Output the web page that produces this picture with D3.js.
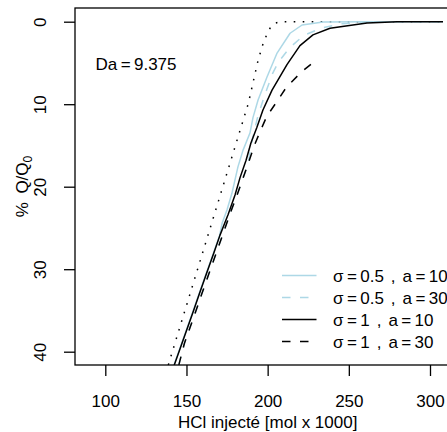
<!DOCTYPE html>
<html>
<head>
<meta charset="utf-8">
<script src="https://cdn.jsdelivr.net/npm/d3@7"></script>
<style>
  html, body { margin: 0; padding: 0; background: #fff; }
  svg { display: block; }
  text { font-family: "Liberation Sans", Arial, Helvetica, sans-serif; fill: #000; }
</style>
</head>
<body>
<svg id="chart" width="447" height="432"></svg>
<script>
// ---- data ----
const xTicks = [100, 150, 200, 250, 300];
const yTicks = [0, 10, 20, 30, 40];

// sigma = 0.5 , a = 10  (light blue solid)
const s05a10X = [142.3, 147.0, 150.6, 154.2, 157.7, 162.2, 166.7, 170.4, 172.0, 175.0, 178.0, 181.7, 184.8, 189.1, 191.0, 194.1, 199.6, 205.8, 213.8, 221.2, 234.1, 260, 308];
const s05a10Y = [41.6, 39.0, 37.0, 35.0, 33.0, 30.5, 28.0, 25.9, 24.4, 22.8, 20.8, 17.6, 15.6, 13.5, 11.6, 9.5, 6.7, 3.8, 1.4, 0.4, 0.04, 0, 0];

// sigma = 0.5 , a = 30  (light blue dashed)
const s05a30X = [145.3, 148.7, 152.3, 155.9, 159.4, 163.9, 168.4, 172.9, 177.0, 181.0, 184.4, 188.0, 190.6, 193.9, 197.2, 199.5, 203.0, 206.6, 213.8, 222.4, 232.7, 245, 260, 280, 308];
const s05a30Y = [41.6, 39.0, 37.0, 35.0, 33.0, 30.5, 28.0, 25.5, 23.2, 21.1, 19.2, 17.2, 14.2, 11.5, 9.5, 8.2, 6.3, 4.9, 3.1, 1.65, 0.8, 0.25, 0.05, 0, 0];

// sigma = 1 , a = 10  (black solid)
const s1a10X = [142.5, 147.2, 150.8, 154.4, 157.9, 162.4, 166.9, 170.6, 175.6, 179.9, 183.0, 186.7, 189.7, 193.4, 197.1, 202.7, 211.9, 219.9, 227.9, 238.4, 261.2, 279.7, 308];
const s1a10Y = [41.6, 39.0, 37.0, 35.0, 33.0, 30.5, 28.0, 25.9, 23.4, 21.0, 18.9, 16.8, 14.7, 12.8, 10.7, 8.3, 5.2, 2.9, 1.6, 0.8, 0.16, 0, 0];

// sigma = 1 , a = 30  (black dashed)
const s1a30X = [145.3, 148.7, 152.3, 155.9, 159.4, 163.9, 168.4, 172.9, 177.0, 181.0, 184.4, 188.0, 191.8, 195.6, 199.4, 205.6, 211.7, 221.0, 230.2];
const s1a30Y = [41.6, 39.0, 37.0, 35.0, 33.0, 30.5, 28.0, 25.5, 23.2, 21.1, 19.2, 17.2, 15.0, 13.2, 11.5, 9.7, 7.9, 6.06, 4.6];

// reference front (black dotted)
const refX = [138.8, 188.1, 194.2, 197.3, 199.8, 202.0, 205.0, 208.0, 308];
const refY = [41.6, 9.9, 4.6, 2.6, 1.4, 0.6, 0.15, 0, 0];

const legendParts = [["σ\u2009=\u20090.5", "a\u2009=\u200910"],
                     ["σ\u2009=\u20090.5", "a\u2009=\u200930"],
                     ["σ\u2009=\u20091", "a\u2009=\u200910"],
                     ["σ\u2009=\u20091", "a\u2009=\u200930"]];
const daLabel = "Da\u2009=\u20099.375";

// ---- layout ----
const svg = d3.select("#chart");
const plotL = 75, plotT = 8, plotB = 365, plotR = 480;
const x = d3.scaleLinear().domain([100, 300]).range([105.3, 430]);
const y = d3.scaleLinear().domain([0, 40]).range([21.7, 351.7]);
const FS = 17;

svg.append("defs").append("clipPath").attr("id", "clip")
  .append("rect").attr("x", plotL).attr("y", plotT)
  .attr("width", plotR - plotL).attr("height", plotB - plotT);

const line = d3.line().x(d => x(d[0])).y(d => y(d[1]));
const zip = (a, b) => a.map((v, i) => [v, b[i]]);

const series = [
  { xs: refX, ys: refY, color: "#000", dash: "1.6,7.4" },
  { xs: s05a10X, ys: s05a10Y, color: "#ADD8E6", dash: null },
  { xs: s05a30X, ys: s05a30Y, color: "#ADD8E6", dash: "8.5,9.5" },
  { xs: s1a10X, ys: s1a10Y, color: "#000", dash: null },
  { xs: s1a30X, ys: s1a30Y, color: "#000", dash: "8.5,9.5" }
];

const g = svg.append("g").attr("clip-path", "url(#clip)");
series.forEach(s => {
  g.append("path").datum(zip(s.xs, s.ys))
    .attr("d", line).attr("fill", "none")
    .attr("stroke", s.color).attr("stroke-width", 1.5)
    .attr("stroke-linejoin", "round")
    .attr("stroke-dasharray", s.dash);
});

// box
svg.append("rect").attr("x", plotL).attr("y", plotT)
  .attr("width", plotR - plotL).attr("height", plotB - plotT)
  .attr("fill", "none").attr("stroke", "#000").attr("stroke-width", 1.3);

// x axis
const xAxis = svg.append("g").attr("transform", `translate(0,${plotB})`)
  .call(d3.axisBottom(x).tickValues(xTicks).tickSize(11).tickSizeOuter(0).tickFormat(d3.format("d")));
xAxis.select(".domain").remove();
xAxis.selectAll(".tick line").attr("stroke", "#000").attr("stroke-width", 1.3);
xAxis.selectAll(".tick text").attr("y", 41.5).attr("dy", null)
  .attr("font-size", FS).attr("font-family", "Liberation Sans, Arial, sans-serif").attr("fill", "#000");

// y axis
const yAxis = svg.append("g").attr("transform", `translate(${plotL},0)`)
  .call(d3.axisLeft(y).tickValues(yTicks).tickSize(11).tickSizeOuter(0).tickFormat(d3.format("d")));
yAxis.select(".domain").remove();
yAxis.selectAll(".tick line").attr("stroke", "#000").attr("stroke-width", 1.3);
yAxis.selectAll(".tick text").attr("x", null).attr("dy", null)
  .attr("transform", "translate(-29.5,0) rotate(-90)")
  .attr("text-anchor", "middle")
  .attr("font-size", FS).attr("font-family", "Liberation Sans, Arial, sans-serif").attr("fill", "#000");

// axis titles
svg.append("text").attr("x", (x(100) + x(300)) / 2).attr("y", 428)
  .attr("text-anchor", "middle").attr("font-size", FS)
  .text("HCl injecté [mol x 1000]");

const yl = svg.append("text")
  .attr("transform", `translate(27.5,${(plotT + plotB) / 2}) rotate(-90)`)
  .attr("text-anchor", "middle").attr("font-size", FS);
yl.append("tspan").text("%\u2002Q/Q");
yl.append("tspan").attr("font-size", 12).attr("dy", 4).text("0");

// Da label
svg.append("text").attr("x", 95.5).attr("y", 69.5).attr("font-size", FS).text(daLabel);

// legend
const legY = [275.5, 297.5, 319.5, 341.5];
const legStyles = [
  { color: "#ADD8E6", dash: null },
  { color: "#ADD8E6", dash: "8.5,9.5" },
  { color: "#000", dash: null },
  { color: "#000", dash: "8.5,9.5" }
];
const leg = svg.append("g");
legendParts.forEach((parts, i) => {
  leg.append("line").attr("x1", 282).attr("x2", 316.5)
    .attr("y1", legY[i]).attr("y2", legY[i])
    .attr("stroke", legStyles[i].color).attr("stroke-width", 1.5)
    .attr("stroke-dasharray", legStyles[i].dash);
  const t = leg.append("text").attr("x", 333).attr("y", legY[i] + 6).attr("font-size", FS);
  t.append("tspan").text(parts[0]);
  t.append("tspan").attr("dx", 7).text(",");
  t.append("tspan").attr("dx", 7).text(parts[1]);
});
</script>
</body>
</html>
